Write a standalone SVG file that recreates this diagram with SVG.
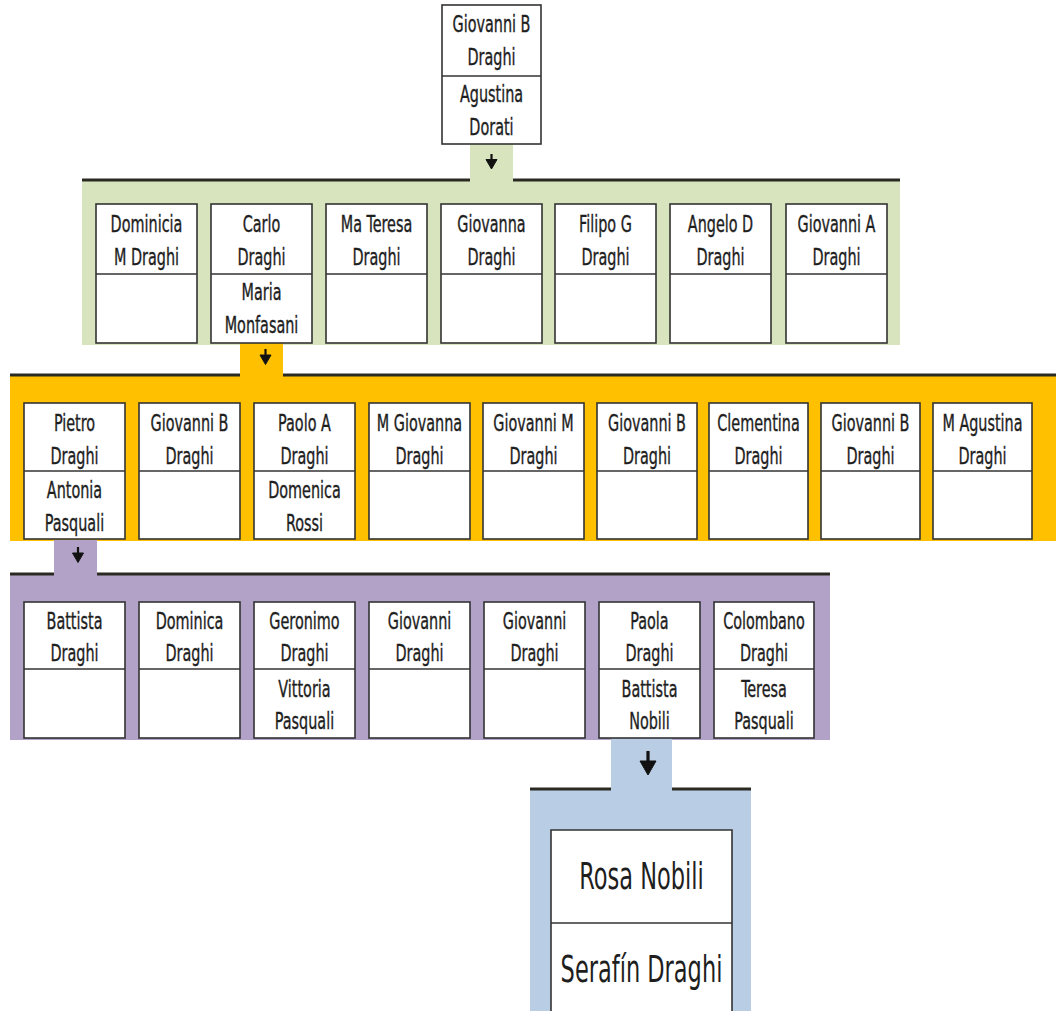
<svg xmlns="http://www.w3.org/2000/svg" width="1056" height="1011" viewBox="0 0 1056 1011">
<style>
.box{fill:#fff;stroke:#333;stroke-width:1.6}
.div{stroke:#333;stroke-width:1.6}
.bar{stroke:#2a2a22;stroke-width:3;fill:none}
.t{font-family:"DejaVu Sans Condensed","DejaVu Sans",sans-serif;font-stretch:condensed;font-size:16px;fill:#1e1e1e;stroke:#1e1e1e;stroke-width:0.25;text-anchor:middle}
.tb{font-family:"DejaVu Sans Condensed","DejaVu Sans",sans-serif;font-stretch:condensed;font-size:25px;fill:#1e1e1e;text-anchor:middle}
.arr{fill:#111;stroke:#111}
</style>
<rect width="1056" height="1011" fill="#fff"/>
<g id="bands">
<rect x="82" y="180" width="818" height="165" fill="#d7e4bd"/>
<rect x="10" y="375" width="1046" height="166" fill="#ffc000"/>
<rect x="10" y="574" width="820" height="166" fill="#b3a2c7"/>
<rect x="530" y="789" width="221" height="222" fill="#b9cde5"/>
</g>
<g id="connectors">
<rect x="470" y="144" width="43" height="37" fill="#d7e4bd"/>
<rect x="240" y="343" width="43" height="33" fill="#ffc000"/>
<rect x="54" y="540" width="43" height="35" fill="#b3a2c7"/>
<rect x="611" y="738" width="61" height="52" fill="#b9cde5"/>
<path class="bar" d="M82 180H470M513 180H900"/>
<path class="bar" d="M10 375H240M283 375H1056"/>
<path class="bar" d="M10 574H54M97 574H830"/>
<path class="bar" d="M530 789H611M672 789H751"/>
<path class="arr" d="M491.5 154V161" stroke-width="2.2"/><path class="arr" d="M486 159.5H497L491.5 169Z" stroke="none"/>
<path class="arr" d="M265.5 349V356" stroke-width="2.2"/><path class="arr" d="M260 355H271L265.5 364.5Z" stroke="none"/>
<path class="arr" d="M78 547V554" stroke-width="2.2"/><path class="arr" d="M72.5 553H83.5L78 562.5Z" stroke="none"/>
<path class="arr" d="M648 751V763" stroke-width="3.2"/><path class="arr" d="M640 761H656L648 775Z" stroke="none"/>
</g>
<g id="n-top">
<rect class="box" x="442" y="5" width="99" height="139"/><line class="div" x1="442" y1="76" x2="541" y2="76"/>
<text class="t" x="491.5" transform="translate(0,32) scale(1,1.4)">Giovanni B</text>
<text class="t" x="491.5" transform="translate(0,65) scale(1,1.4)">Draghi</text>
<text class="t" x="491.5" transform="translate(0,102) scale(1,1.4)">Agustina</text>
<text class="t" x="491.5" transform="translate(0,135) scale(1,1.4)">Dorati</text>
</g>
<g id="n-g1"><rect class="box" x="96" y="204" width="101" height="139"/><line class="div" x1="96" y1="274" x2="197" y2="274"/>
<text class="t" x="146.5" transform="translate(0,232) scale(1,1.4)">Dominicia</text>
<text class="t" x="146.5" transform="translate(0,265) scale(1,1.4)">M Draghi</text></g>
<g id="n-g2"><rect class="box" x="211" y="204" width="101" height="139"/><line class="div" x1="211" y1="274" x2="312" y2="274"/>
<text class="t" x="261.5" transform="translate(0,232) scale(1,1.4)">Carlo</text>
<text class="t" x="261.5" transform="translate(0,265) scale(1,1.4)">Draghi</text>
<text class="t" x="261.5" transform="translate(0,300) scale(1,1.4)">Maria</text>
<text class="t" x="261.5" transform="translate(0,333) scale(1,1.4)">Monfasani</text></g>
<g id="n-g3"><rect class="box" x="326" y="204" width="101" height="139"/><line class="div" x1="326" y1="274" x2="427" y2="274"/>
<text class="t" x="376.5" transform="translate(0,232) scale(1,1.4)">Ma Teresa</text>
<text class="t" x="376.5" transform="translate(0,265) scale(1,1.4)">Draghi</text></g>
<g id="n-g4"><rect class="box" x="441" y="204" width="101" height="139"/><line class="div" x1="441" y1="274" x2="542" y2="274"/>
<text class="t" x="491.5" transform="translate(0,232) scale(1,1.4)">Giovanna</text>
<text class="t" x="491.5" transform="translate(0,265) scale(1,1.4)">Draghi</text></g>
<g id="n-g5"><rect class="box" x="555" y="204" width="101" height="139"/><line class="div" x1="555" y1="274" x2="656" y2="274"/>
<text class="t" x="605.5" transform="translate(0,232) scale(1,1.4)">Filipo G</text>
<text class="t" x="605.5" transform="translate(0,265) scale(1,1.4)">Draghi</text></g>
<g id="n-g6"><rect class="box" x="670" y="204" width="101" height="139"/><line class="div" x1="670" y1="274" x2="771" y2="274"/>
<text class="t" x="720.5" transform="translate(0,232) scale(1,1.4)">Angelo D</text>
<text class="t" x="720.5" transform="translate(0,265) scale(1,1.4)">Draghi</text></g>
<g id="n-g7"><rect class="box" x="786" y="204" width="101" height="139"/><line class="div" x1="786" y1="274" x2="887" y2="274"/>
<text class="t" x="836.5" transform="translate(0,232) scale(1,1.4)">Giovanni A</text>
<text class="t" x="836.5" transform="translate(0,265) scale(1,1.4)">Draghi</text></g>

<g id="n-o1"><rect class="box" x="24" y="403" width="101" height="136"/><line class="div" x1="24" y1="471" x2="125" y2="471"/>
<text class="t" x="74.5" transform="translate(0,431) scale(1,1.4)">Pietro</text>
<text class="t" x="74.5" transform="translate(0,464) scale(1,1.4)">Draghi</text>
<text class="t" x="74.5" transform="translate(0,498) scale(1,1.4)">Antonia</text>
<text class="t" x="74.5" transform="translate(0,531) scale(1,1.4)">Pasquali</text></g>
<g id="n-o2"><rect class="box" x="139" y="403" width="101" height="136"/><line class="div" x1="139" y1="471" x2="240" y2="471"/>
<text class="t" x="189.5" transform="translate(0,431) scale(1,1.4)">Giovanni B</text>
<text class="t" x="189.5" transform="translate(0,464) scale(1,1.4)">Draghi</text></g>
<g id="n-o3"><rect class="box" x="254" y="403" width="101" height="136"/><line class="div" x1="254" y1="471" x2="355" y2="471"/>
<text class="t" x="304.5" transform="translate(0,431) scale(1,1.4)">Paolo A</text>
<text class="t" x="304.5" transform="translate(0,464) scale(1,1.4)">Draghi</text>
<text class="t" x="304.5" transform="translate(0,498) scale(1,1.4)">Domenica</text>
<text class="t" x="304.5" transform="translate(0,531) scale(1,1.4)">Rossi</text></g>
<g id="n-o4"><rect class="box" x="369" y="403" width="101" height="136"/><line class="div" x1="369" y1="471" x2="470" y2="471"/>
<text class="t" x="419.5" transform="translate(0,431) scale(1,1.4)">M Giovanna</text>
<text class="t" x="419.5" transform="translate(0,464) scale(1,1.4)">Draghi</text></g>
<g id="n-o5"><rect class="box" x="483" y="403" width="101" height="136"/><line class="div" x1="483" y1="471" x2="584" y2="471"/>
<text class="t" x="533.5" transform="translate(0,431) scale(1,1.4)">Giovanni M</text>
<text class="t" x="533.5" transform="translate(0,464) scale(1,1.4)">Draghi</text></g>
<g id="n-o6"><rect class="box" x="597" y="403" width="100" height="136"/><line class="div" x1="597" y1="471" x2="697" y2="471"/>
<text class="t" x="647" transform="translate(0,431) scale(1,1.4)">Giovanni B</text>
<text class="t" x="647" transform="translate(0,464) scale(1,1.4)">Draghi</text></g>
<g id="n-o7"><rect class="box" x="709" y="403" width="99" height="136"/><line class="div" x1="709" y1="471" x2="808" y2="471"/>
<text class="t" x="758.5" transform="translate(0,431) scale(1,1.4)">Clementina</text>
<text class="t" x="758.5" transform="translate(0,464) scale(1,1.4)">Draghi</text></g>
<g id="n-o8"><rect class="box" x="821" y="403" width="99" height="136"/><line class="div" x1="821" y1="471" x2="920" y2="471"/>
<text class="t" x="870.5" transform="translate(0,431) scale(1,1.4)">Giovanni B</text>
<text class="t" x="870.5" transform="translate(0,464) scale(1,1.4)">Draghi</text></g>
<g id="n-o9"><rect class="box" x="933" y="403" width="99" height="136"/><line class="div" x1="933" y1="471" x2="1032" y2="471"/>
<text class="t" x="982.5" transform="translate(0,431) scale(1,1.4)">M Agustina</text>
<text class="t" x="982.5" transform="translate(0,464) scale(1,1.4)">Draghi</text></g>

<g id="n-p1"><rect class="box" x="24" y="602" width="101" height="136"/><line class="div" x1="24" y1="669" x2="125" y2="669"/>
<text class="t" x="74.5" transform="translate(0,629) scale(1,1.4)">Battista</text>
<text class="t" x="74.5" transform="translate(0,661) scale(1,1.4)">Draghi</text></g>
<g id="n-p2"><rect class="box" x="139" y="602" width="101" height="136"/><line class="div" x1="139" y1="669" x2="240" y2="669"/>
<text class="t" x="189.5" transform="translate(0,629) scale(1,1.4)">Dominica</text>
<text class="t" x="189.5" transform="translate(0,661) scale(1,1.4)">Draghi</text></g>
<g id="n-p3"><rect class="box" x="254" y="602" width="101" height="136"/><line class="div" x1="254" y1="669" x2="355" y2="669"/>
<text class="t" x="304.5" transform="translate(0,629) scale(1,1.4)">Geronimo</text>
<text class="t" x="304.5" transform="translate(0,661) scale(1,1.4)">Draghi</text>
<text class="t" x="304.5" transform="translate(0,697) scale(1,1.4)">Vittoria</text>
<text class="t" x="304.5" transform="translate(0,729) scale(1,1.4)">Pasquali</text></g>
<g id="n-p4"><rect class="box" x="369" y="602" width="101" height="136"/><line class="div" x1="369" y1="669" x2="470" y2="669"/>
<text class="t" x="419.5" transform="translate(0,629) scale(1,1.4)">Giovanni</text>
<text class="t" x="419.5" transform="translate(0,661) scale(1,1.4)">Draghi</text></g>
<g id="n-p5"><rect class="box" x="484" y="602" width="101" height="136"/><line class="div" x1="484" y1="669" x2="585" y2="669"/>
<text class="t" x="534.5" transform="translate(0,629) scale(1,1.4)">Giovanni</text>
<text class="t" x="534.5" transform="translate(0,661) scale(1,1.4)">Draghi</text></g>
<g id="n-p6"><rect class="box" x="599" y="602" width="101" height="136"/><line class="div" x1="599" y1="669" x2="700" y2="669"/>
<text class="t" x="649.5" transform="translate(0,629) scale(1,1.4)">Paola</text>
<text class="t" x="649.5" transform="translate(0,661) scale(1,1.4)">Draghi</text>
<text class="t" x="649.5" transform="translate(0,697) scale(1,1.4)">Battista</text>
<text class="t" x="649.5" transform="translate(0,729) scale(1,1.4)">Nobili</text></g>
<g id="n-p7"><rect class="box" x="714" y="602" width="100" height="136"/><line class="div" x1="714" y1="669" x2="814" y2="669"/>
<text class="t" x="764" transform="translate(0,629) scale(1,1.4)">Colombano</text>
<text class="t" x="764" transform="translate(0,661) scale(1,1.4)">Draghi</text>
<text class="t" x="764" transform="translate(0,697) scale(1,1.4)">Teresa</text>
<text class="t" x="764" transform="translate(0,729) scale(1,1.4)">Pasquali</text></g>

<g id="n-b1"><path class="box" d="M551 1015V830H732V1015"/><line class="div" x1="551" y1="923" x2="732" y2="923"/>
<text class="tb" x="641.5" transform="translate(0,889) scale(1,1.5)">Rosa Nobili</text>
<text class="tb" x="641.5" transform="translate(0,982) scale(1,1.5)">Serafín Draghi</text></g>
</svg>
